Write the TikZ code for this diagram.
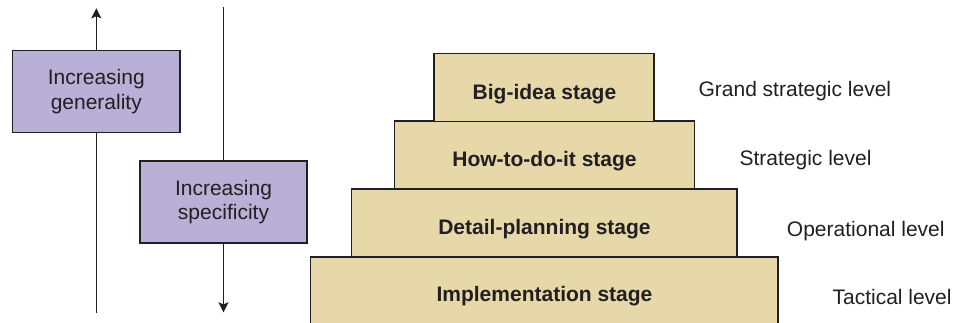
\documentclass[tikz,border=0pt]{standalone}
\usepackage{fontspec}
\setmainfont{Liberation Sans}
\usetikzlibrary{arrows.meta}
\definecolor{purp}{HTML}{B8B0D6}
\definecolor{beige}{HTML}{E6D8A8}
\definecolor{ink}{HTML}{231F20}
\begin{document}
\begin{tikzpicture}[x=0.75pt,y=-0.75pt,
  every node/.style={text=ink,font=\fontsize{15.75}{18.3}\selectfont},
  purplebox/.style={draw=ink,fill=purp,line width=1.1pt,outer sep=0pt,inner sep=0pt,
    minimum width=125.5pt,minimum height=61.5pt,align=center},
  tier/.style={draw=ink,fill=beige,line width=1.1pt,outer sep=0pt,inner sep=0pt,minimum height=51pt},
  tiertext/.style={anchor=base,inner sep=0pt,font=\fontsize{15.75}{18.3}\selectfont\bfseries},
  levellabel/.style={anchor=base west,inner sep=0pt},
  axis/.style={draw=ink,line width=1.1pt},
  axisarrow/.style={axis,-{Stealth[length=7.5pt,width=7.5pt,inset=1.5pt]}}]
\useasboundingbox (0,0) rectangle (958,323);
\begin{scope}
\clip (0,0) rectangle (958,323);
% pyramid tiers
\node[tier,minimum width=350.5pt] (impl) at (544.3,291) {};
\node[tier,minimum width=289pt] (detail) at (544.3,223) {};
\node[tier,minimum width=225.3pt] (how) at (544.5,155) {};
\node[tier,minimum width=165pt] (big) at (544,87.3) {};
\end{scope}
\node[tiertext] (bigt) at (544.5,100) {Big-idea stage};
\node[tiertext] (howt) at (544.5,166.7) {How-to-do-it stage};
\node[tiertext] (detailt) at (544.5,235) {Detail-planning stage};
\node[tiertext] (implt) at (544.5,302) {Implementation stage};
% level labels
\node[levellabel] (grand) at (698.3,96.7) {Grand strategic level};
\node[levellabel] (strat) at (739.3,166) {Strategic level};
\node[levellabel] (oper) at (786.7,236.5) {Operational level};
\node[levellabel] (tact) at (832.3,305) {Tactical level};
% left boxes and arrows
\node[purplebox] (gen) at (96.3,91.7) {Increasing\\generality};
\node[purplebox] (spec) at (223.5,202) {Increasing\\specificity};
\coordinate (genbot) at (96.3,312.7);
\coordinate (gentop) at (96.3,8.3);
\coordinate (spectop) at (223.5,7.3);
\coordinate (specbot) at (223.5,312.3);
\draw[axis] (genbot) -- (gen.south);
\draw[axisarrow] (gen.north) -- (gentop);
\draw[axis] (spectop) -- (spec.north);
\draw[axisarrow] (spec.south) -- (specbot);
\end{tikzpicture}
\end{document}
